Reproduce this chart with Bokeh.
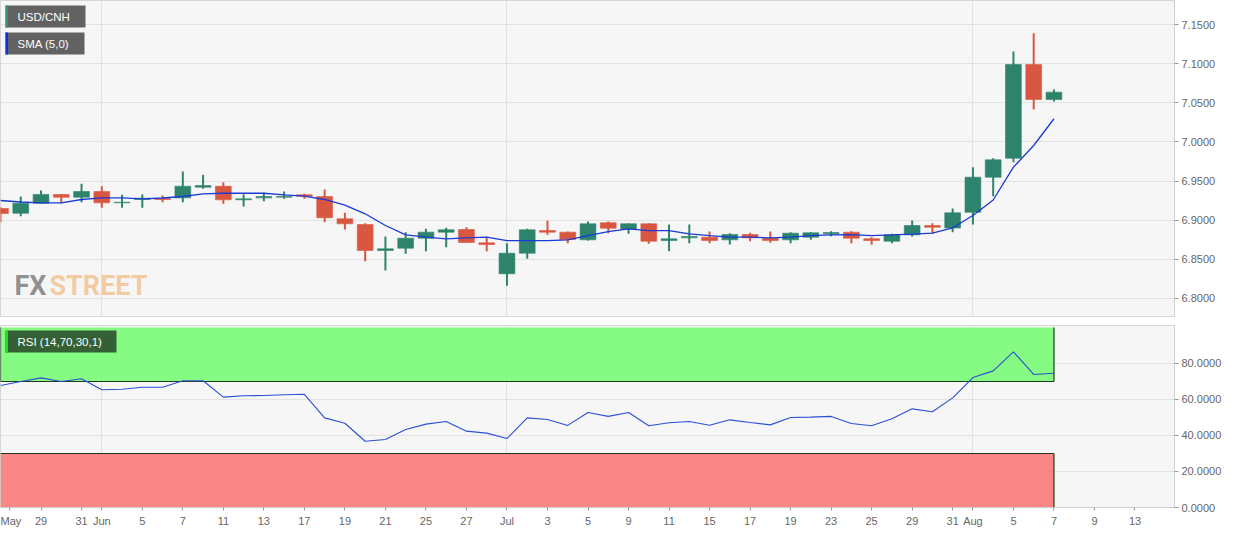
import pandas as pd
from bokeh.plotting import figure
from bokeh.layouts import column
from bokeh.models import (FixedTicker, NumeralTickFormatter, BoxAnnotation, Label,
                          ColumnDataSource, Range1d)
from bokeh.embed import file_html
from bokeh.resources import INLINE

# ---------------- data ----------------
first_day = "2019-05-27"
last_axis_day = "2019-08-16"

opens = [6.9150, 6.9089, 6.9217, 6.9329, 6.9294, 6.9367, 6.9222, 6.9265, 6.9277, 6.9286,
         6.9422, 6.9435, 6.9261, 6.9286, 6.9294, 6.9325, 6.9303, 6.9018, 6.8945, 6.8613,
         6.8642, 6.8770, 6.8847, 6.8881, 6.8711, 6.8315, 6.8578, 6.8868, 6.8847, 6.8749,
         6.8967, 6.8885, 6.8954, 6.8740, 6.8775, 6.8783, 6.8749, 6.8817, 6.8770, 6.8749,
         6.8783, 6.8826, 6.8847, 6.8762, 6.8731, 6.8813, 6.8932, 6.8900, 6.9102, 6.9550,
         6.9793, 7.0991, 7.0543]
highs = [6.9166, 6.9303, 6.9380, 6.9335, 6.9465, 6.9435, 6.9325, 6.9329, 6.9316, 6.9623,
         6.9581, 6.9486, 6.9329, 6.9350, 6.9367, 6.9338, 6.9393, 6.9095, 6.8962, 6.8792,
         6.8847, 6.8890, 6.8903, 6.8910, 6.8783, 6.8706, 6.8890, 6.8996, 6.8855, 6.8983,
         6.8983, 6.8962, 6.8962, 6.8945, 6.8945, 6.8855, 6.8834, 6.8839, 6.8855, 6.8847,
         6.8847, 6.8859, 6.8859, 6.8783, 6.8826, 6.8996, 6.8962, 6.9150, 6.9678, 6.9793,
         7.1157, 7.1391, 7.0671]
lows = [6.8974, 6.9051, 6.9214, 6.9217, 6.9230, 6.9159, 6.9159, 6.9159, 6.9230, 6.9230,
        6.9402, 6.9210, 6.9175, 6.9243, 6.9274, 6.9274, 6.8974, 6.8881, 6.8476, 6.8357,
        6.8570, 6.8604, 6.8655, 6.8711, 6.8604, 6.8161, 6.8506, 6.8813, 6.8706, 6.8740,
        6.8834, 6.8826, 6.8698, 6.8604, 6.8706, 6.8706, 6.8689, 6.8731, 6.8711, 6.8706,
        6.8749, 6.8795, 6.8706, 6.8685, 6.8706, 6.8792, 6.8826, 6.8847, 6.8945, 6.9307,
        6.9742, 7.0416, 7.0518]
closes = [6.9086, 6.9217, 6.9329, 6.9294, 6.9367, 6.9222, 6.9230, 6.9281, 6.9265, 6.9435,
          6.9444, 6.9261, 6.9274, 6.9303, 6.9303, 6.9307, 6.9031, 6.8954, 6.8613, 6.8634,
          6.8770, 6.8847, 6.8877, 6.8715, 6.8689, 6.8578, 6.8877, 6.8847, 6.8753, 6.8954,
          6.8898, 6.8954, 6.8731, 6.8762, 6.8792, 6.8740, 6.8817, 6.8775, 6.8740, 6.8834,
          6.8839, 6.8843, 6.8770, 6.8740, 6.8813, 6.8932, 6.8910, 6.9095, 6.9550, 6.9772,
          7.0991, 7.0543, 7.0637]
sma5 = [6.9252, 6.9233, 6.9222, 6.9222, 6.9265, 6.9286, 6.9286, 6.9274, 6.9284, 6.9303,
        6.9338, 6.9345, 6.9345, 6.9345, 6.9325, 6.9307, 6.9265, 6.9194, 6.9082, 6.8932,
        6.8813, 6.8783, 6.8762, 6.8775, 6.8783, 6.8740, 6.8740, 6.8740, 6.8749, 6.8804,
        6.8855, 6.8890, 6.8868, 6.8868, 6.8826, 6.8804, 6.8783, 6.8783, 6.8775, 6.8783,
        6.8804, 6.8813, 6.8817, 6.8804, 6.8813, 6.8823, 6.8836, 6.8903, 6.9060, 6.9258,
        6.9678, 6.9955, 7.0297]
rsi14 = [67.8, 70.0, 72.0, 70.0, 71.5, 65.4, 65.7, 66.8, 66.8, 70.4,
         70.4, 61.3, 62.1, 62.2, 62.6, 62.9, 49.8, 46.8, 36.8, 37.8,
         43.3, 46.3, 47.8, 42.4, 41.3, 38.3, 49.8, 48.9, 45.6, 52.8,
         50.6, 52.8, 45.4, 47.1, 47.8, 45.7, 48.7, 47.2, 45.9, 50.0,
         50.2, 50.6, 46.7, 45.4, 49.3, 54.8, 53.2, 60.9, 72.2, 75.9,
         86.5, 73.9, 74.6]

tick_dates = ["2019-05-29", "2019-05-31", "2019-06-03", "2019-06-05", "2019-06-07",
              "2019-06-11", "2019-06-13", "2019-06-17", "2019-06-19", "2019-06-21",
              "2019-06-25", "2019-06-27", "2019-07-01", "2019-07-03", "2019-07-05",
              "2019-07-09", "2019-07-11", "2019-07-15", "2019-07-17", "2019-07-19",
              "2019-07-23", "2019-07-25", "2019-07-29", "2019-07-31", "2019-08-01",
              "2019-08-05", "2019-08-07", "2019-08-09", "2019-08-13"]
tick_labels = ["29", "31", "Jun", "5", "7", "11", "13", "17", "19", "21", "25", "27",
               "Jul", "3", "5", "9", "11", "15", "17", "19", "23", "25", "29", "31",
               "Aug", "5", "7", "9", "13"]
first_month_label = "May"
month_starts = ["2019-06-03", "2019-07-01", "2019-08-01"]
price_ticks = [6.80, 6.85, 6.90, 6.95, 7.00, 7.05, 7.10, 7.15]
rsi_ticks = [0, 20, 40, 60, 80]
rsi_upper, rsi_lower, rsi_max = 70, 30, 100

# ---------------- styling ----------------
GREEN = "#2e836c"
RED = "#d95741"
FONT = "Liberation Sans"
BG = "#f6f6f6"
GRID = "#e2e2e2"

days = pd.bdate_range(first_day, last_axis_day)
pos = {d.strftime("%Y-%m-%d"): i for i, d in enumerate(days)}

X0, X1 = 0.0, 57.95
Y0, Y1 = 6.7769, 7.1809
R0, R1 = 0.0, 101.1
REF_W, REF_H, REF_RH = 1174.0, 316.0, 182.0

def tx(px):
    return X0 + px / REF_W * (X1 - X0)

def ty(py):
    return Y1 - py / REF_H * (Y1 - Y0)

def ry(py):
    return R1 - py / REF_RH * (R1 - R0)

FW = 1174
x_range = Range1d(X0, X1)

def style(p):
    p.background_fill_color = BG
    p.border_fill_color = "white"
    p.outline_line_color = "#d6d6d6"
    p.grid.grid_line_color = GRID
    p.xgrid.ticker = FixedTicker(ticks=[pos[d] for d in month_starts])
    ax = p.yaxis[0]
    ax.axis_line_color = "#cfcfcf"
    ax.major_tick_line_color = "#999999"
    ax.major_tick_out = 4
    ax.major_tick_in = 0
    ax.minor_tick_line_color = None
    ax.major_label_text_font = FONT
    ax.major_label_text_font_size = "11px"
    ax.major_label_text_color = "#666666"
    ax.major_label_standoff = 3
    ax.formatter = NumeralTickFormatter(format="0.0000")

# ---------------- price panel ----------------
top = figure(frame_width=FW, frame_height=316, x_range=x_range, y_range=Range1d(Y0, Y1),
             x_axis_location=None, y_axis_location="right", toolbar_location=None,
             output_backend="svg", min_border_left=0, min_border_top=0,
             min_border_right=0, min_border_bottom=9)
style(top)
top.yaxis.ticker = FixedTicker(ticks=price_ticks)
top.ygrid.ticker = FixedTicker(ticks=price_ticks)

x = list(range(len(opens)))
colors = [GREEN if c >= o else RED for o, c in zip(opens, closes)]
src = ColumnDataSource(dict(x=x, high=highs, low=lows,
                            top=[max(o, c) for o, c in zip(opens, closes)],
                            bottom=[min(o, c) for o, c in zip(opens, closes)],
                            color=colors))
top.segment(x0="x", y0="high", x1="x", y1="low", line_color="color", line_width=2, source=src)
top.vbar(x="x", width=0.78, top="top", bottom="bottom", fill_color="color",
         line_color="color", line_width=0.6, source=src)
top.line(x, sma5, line_color="#1a3ad6", line_width=1.3)

# watermark
top.add_layout(Label(x=tx(14), y=ty(285), text="FX", text_baseline="middle",
                     text_font="Roboto", text_font_style="bold",
                     text_font_size="27px", text_color="#6e6e6e", text_alpha=0.75))
top.add_layout(Label(x=tx(49), y=ty(285), text="STREET", text_baseline="middle",
                     text_font="Roboto", text_font_style="bold",
                     text_font_size="27px", text_color="#f2a65a", text_alpha=0.55))

def tag(p, fx, fy, left, right, top_px, bot_px, text, box_color, stripe_color):
    p.add_layout(BoxAnnotation(left=fx(left), right=fx(right), top=fy(top_px), bottom=fy(bot_px),
                               fill_color=box_color, fill_alpha=1, line_alpha=0))
    p.add_layout(BoxAnnotation(left=fx(left), right=fx(left + 2.5), top=fy(top_px), bottom=fy(bot_px),
                               fill_color=stripe_color, fill_alpha=1, line_alpha=0))
    p.add_layout(Label(x=fx(left + 12), y=fy((top_px + bot_px) / 2), text=text,
                       text_baseline="middle", text_font=FONT,
                       text_font_size="11.5px", text_color="white"))

tag(top, tx, ty, 5, 85, 5, 27, "USD/CNH", "#626262", "#3a9273")
tag(top, tx, ty, 5, 84, 32, 54, "SMA (5,0)", "#626262", "#0b2ff0")

# ---------------- RSI panel ----------------
bot = figure(frame_width=FW, frame_height=182, x_range=x_range, y_range=Range1d(R0, R1),
             y_axis_location="right", toolbar_location=None, output_backend="svg",
             min_border_left=0, min_border_top=0, min_border_right=0, min_border_bottom=0)
style(bot)
bot.yaxis.ticker = FixedTicker(ticks=rsi_ticks)
bot.ygrid.ticker = FixedTicker(ticks=rsi_ticks)

last_x = x[-1]
bot.add_layout(BoxAnnotation(left=None, right=last_x, bottom=rsi_upper, top=rsi_max,
                             fill_color="#7dfb7a", fill_alpha=0.93, line_alpha=0, level="underlay"))
bot.add_layout(BoxAnnotation(left=None, right=last_x, bottom=R0, top=rsi_lower,
                             fill_color="#fa7d7d", fill_alpha=0.93, line_alpha=0, level="underlay"))
bot.segment(x0=[X0, last_x, X0, last_x, X0], y0=[rsi_upper, rsi_upper, rsi_lower, rsi_lower, rsi_upper],
            x1=[last_x, last_x, last_x, last_x, X0], y1=[rsi_upper, rsi_max, rsi_lower, R0, rsi_max],
            line_color="#1d3a1d", line_width=1.2)
bot.line(x, rsi14, line_color="#2d4fd6", line_width=1.1)

tag(bot, tx, ry, 5, 116, 5, 27, "RSI (14,70,30,1)", "#355f34", "#1ee01e")

xa = bot.xaxis[0]
tick_pos = [pos[d] for d in tick_dates]
xa.ticker = FixedTicker(ticks=[0.45] + tick_pos)
overrides = {0.45: first_month_label}
for tp, lb in zip(tick_pos, tick_labels):
    overrides[tp] = lb
xa.major_label_overrides = overrides
xa.axis_line_color = "#cfcfcf"
xa.major_tick_line_color = "#999999"
xa.major_tick_out = 3
xa.major_tick_in = 0
xa.minor_tick_line_color = None
xa.major_label_text_font = FONT
xa.major_label_text_font_size = "11px"
xa.major_label_text_color = "#666666"
xa.major_label_standoff = 4

layout = column(top, bot, spacing=0)
open("out.html", "w").write(file_html(layout, INLINE))
